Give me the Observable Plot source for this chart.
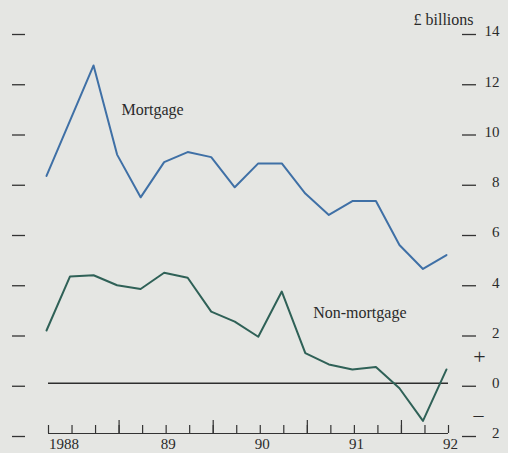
<!DOCTYPE html>
<html><head><meta charset="utf-8">
<script src="https://cdn.jsdelivr.net/npm/d3@7"></script>
<script src="https://cdn.jsdelivr.net/npm/@observablehq/plot@0.6"></script>
<style>
html,body{margin:0;padding:0;background:#e5e6e3;}
#chart svg{display:block;}
</style></head><body><div id="chart"></div>
<script>
const quarters = ["1988 Q1","1988 Q2","1988 Q3","1988 Q4","1989 Q1","1989 Q2","1989 Q3","1989 Q4",
  "1990 Q1","1990 Q2","1990 Q3","1990 Q4","1991 Q1","1991 Q2","1991 Q3","1991 Q4","1992 Q1","1992 Q2"];
const mortgage    = [8.25,10.45,12.65,9.1,7.4,8.8,9.2,9.0,7.8,8.75,8.75,7.55,6.7,7.25,7.25,5.5,4.55,5.1];
const nonMortgage = [2.1,4.25,4.3,3.9,3.75,4.4,4.2,2.85,2.45,1.85,3.65,1.2,0.75,0.55,0.65,-0.2,-1.5,0.55];
const yTicks = [14,12,10,8,6,4,2,0,-2];
const yTickLabels = ["14","12","10","8","6","4","2","0","2"];
const yearLabelAt = ["1988 Q2","1989 Q2","1990 Q2","1991 Q2","1992 Q2"];
const yearLabels = ["1988","89","90","91","92"];
const yearEnds = ["1988 Q4","1989 Q4","1990 Q4","1991 Q4"];

const pos = q => quarters.indexOf(q);
const ink = "#2a2a2a";
const font = "Liberation Serif, Times New Roman, serif";
const blank = () => "";

const W = 508, H = 453, mT = 31, mB = 20;
const frameH = H - mT - mB;

const chart = Plot.plot({
  width: W, height: H,
  marginLeft: 48, marginRight: 60, marginTop: mT, marginBottom: mB,
  x: {type: "linear", domain: [0, quarters.length - 1], axis: null},
  y: {domain: [-2, 14], axis: null},
  style: {fontFamily: font, fontSize: "16px", background: "transparent", color: ink},
  marks: [
    // zero line and baseline
    Plot.ruleY([0], {x1: 0, x2: quarters.length - 1, stroke: "#2e2e2e", strokeWidth: 1.3}),
    Plot.ruleY([-2], {x1: 0, x2: quarters.length - 1, stroke: "#333", strokeWidth: 1.2}),
    // x ticks standing up from the baseline
    Plot.tickX(quarters.map(pos), {x: d => d, insetTop: frameH - 8, stroke: "#333", strokeWidth: 1.2}),
    Plot.tickX(yearEnds.map(pos), {x: d => d, insetTop: frameH - 13, stroke: "#333", strokeWidth: 1.2}),
    // x labels
    Plot.text([yearLabels[0]], {x: pos(yearLabelAt[0]), y: -2, dy: 11, dx: 7, textAnchor: "end", text: d => d, fill: ink, fontSize: 15}),
    Plot.text(yearLabels.slice(1), {x: (d, i) => pos(yearLabelAt[i + 1]), y: -2, dy: 11, dx: 2, textAnchor: "middle", text: d => d, fill: ink, fontSize: 15}),
    // y tick dashes both sides
    Plot.axisY({anchor: "right", ticks: yTicks, tickSize: 14, dx: 13, dy: 3, tickFormat: blank, stroke: "#333", strokeWidth: 1.3}),
    Plot.axisY({anchor: "left", ticks: yTicks, tickSize: 13, dx: -23, dy: 3, tickFormat: blank, stroke: "#333", strokeWidth: 1.3}),
    // y labels
    Plot.text(yTicks, {y: d => d, text: (d, i) => yTickLabels[i], frameAnchor: "right", dx: 51, textAnchor: "end", fill: ink, fontSize: 15}),
    Plot.text(["+"], {y: 1.05, frameAnchor: "right", dx: 31, textAnchor: "middle", text: d => d, fill: ink, fontSize: 22}),
    Plot.text(["\u2013"], {y: -1.27, frameAnchor: "right", dx: 30, textAnchor: "middle", text: d => d, fill: ink, fontSize: 20}),
    Plot.text(["£ billions"], {y: 14, dy: -12, frameAnchor: "right", dx: 25, textAnchor: "end", text: d => d, fill: ink, fontSize: 16}),
    // series
    Plot.line(mortgage, {x: (d, i) => i, y: d => d, stroke: "#3f70a6", strokeWidth: 2, dx: -2}),
    Plot.line(nonMortgage, {x: (d, i) => i, y: d => d, stroke: "#2f6157", strokeWidth: 2, dx: -2}),
    // series labels
    Plot.text(["Mortgage"], {x: 3.1, y: 10.9, textAnchor: "start", text: d => d, fill: ink, fontSize: 16}),
    Plot.text(["Non-mortgage"], {x: 11.25, y: 2.79, textAnchor: "start", text: d => d, fill: ink, fontSize: 16})
  ]
});
document.getElementById("chart").append(chart);
</script></body></html>
